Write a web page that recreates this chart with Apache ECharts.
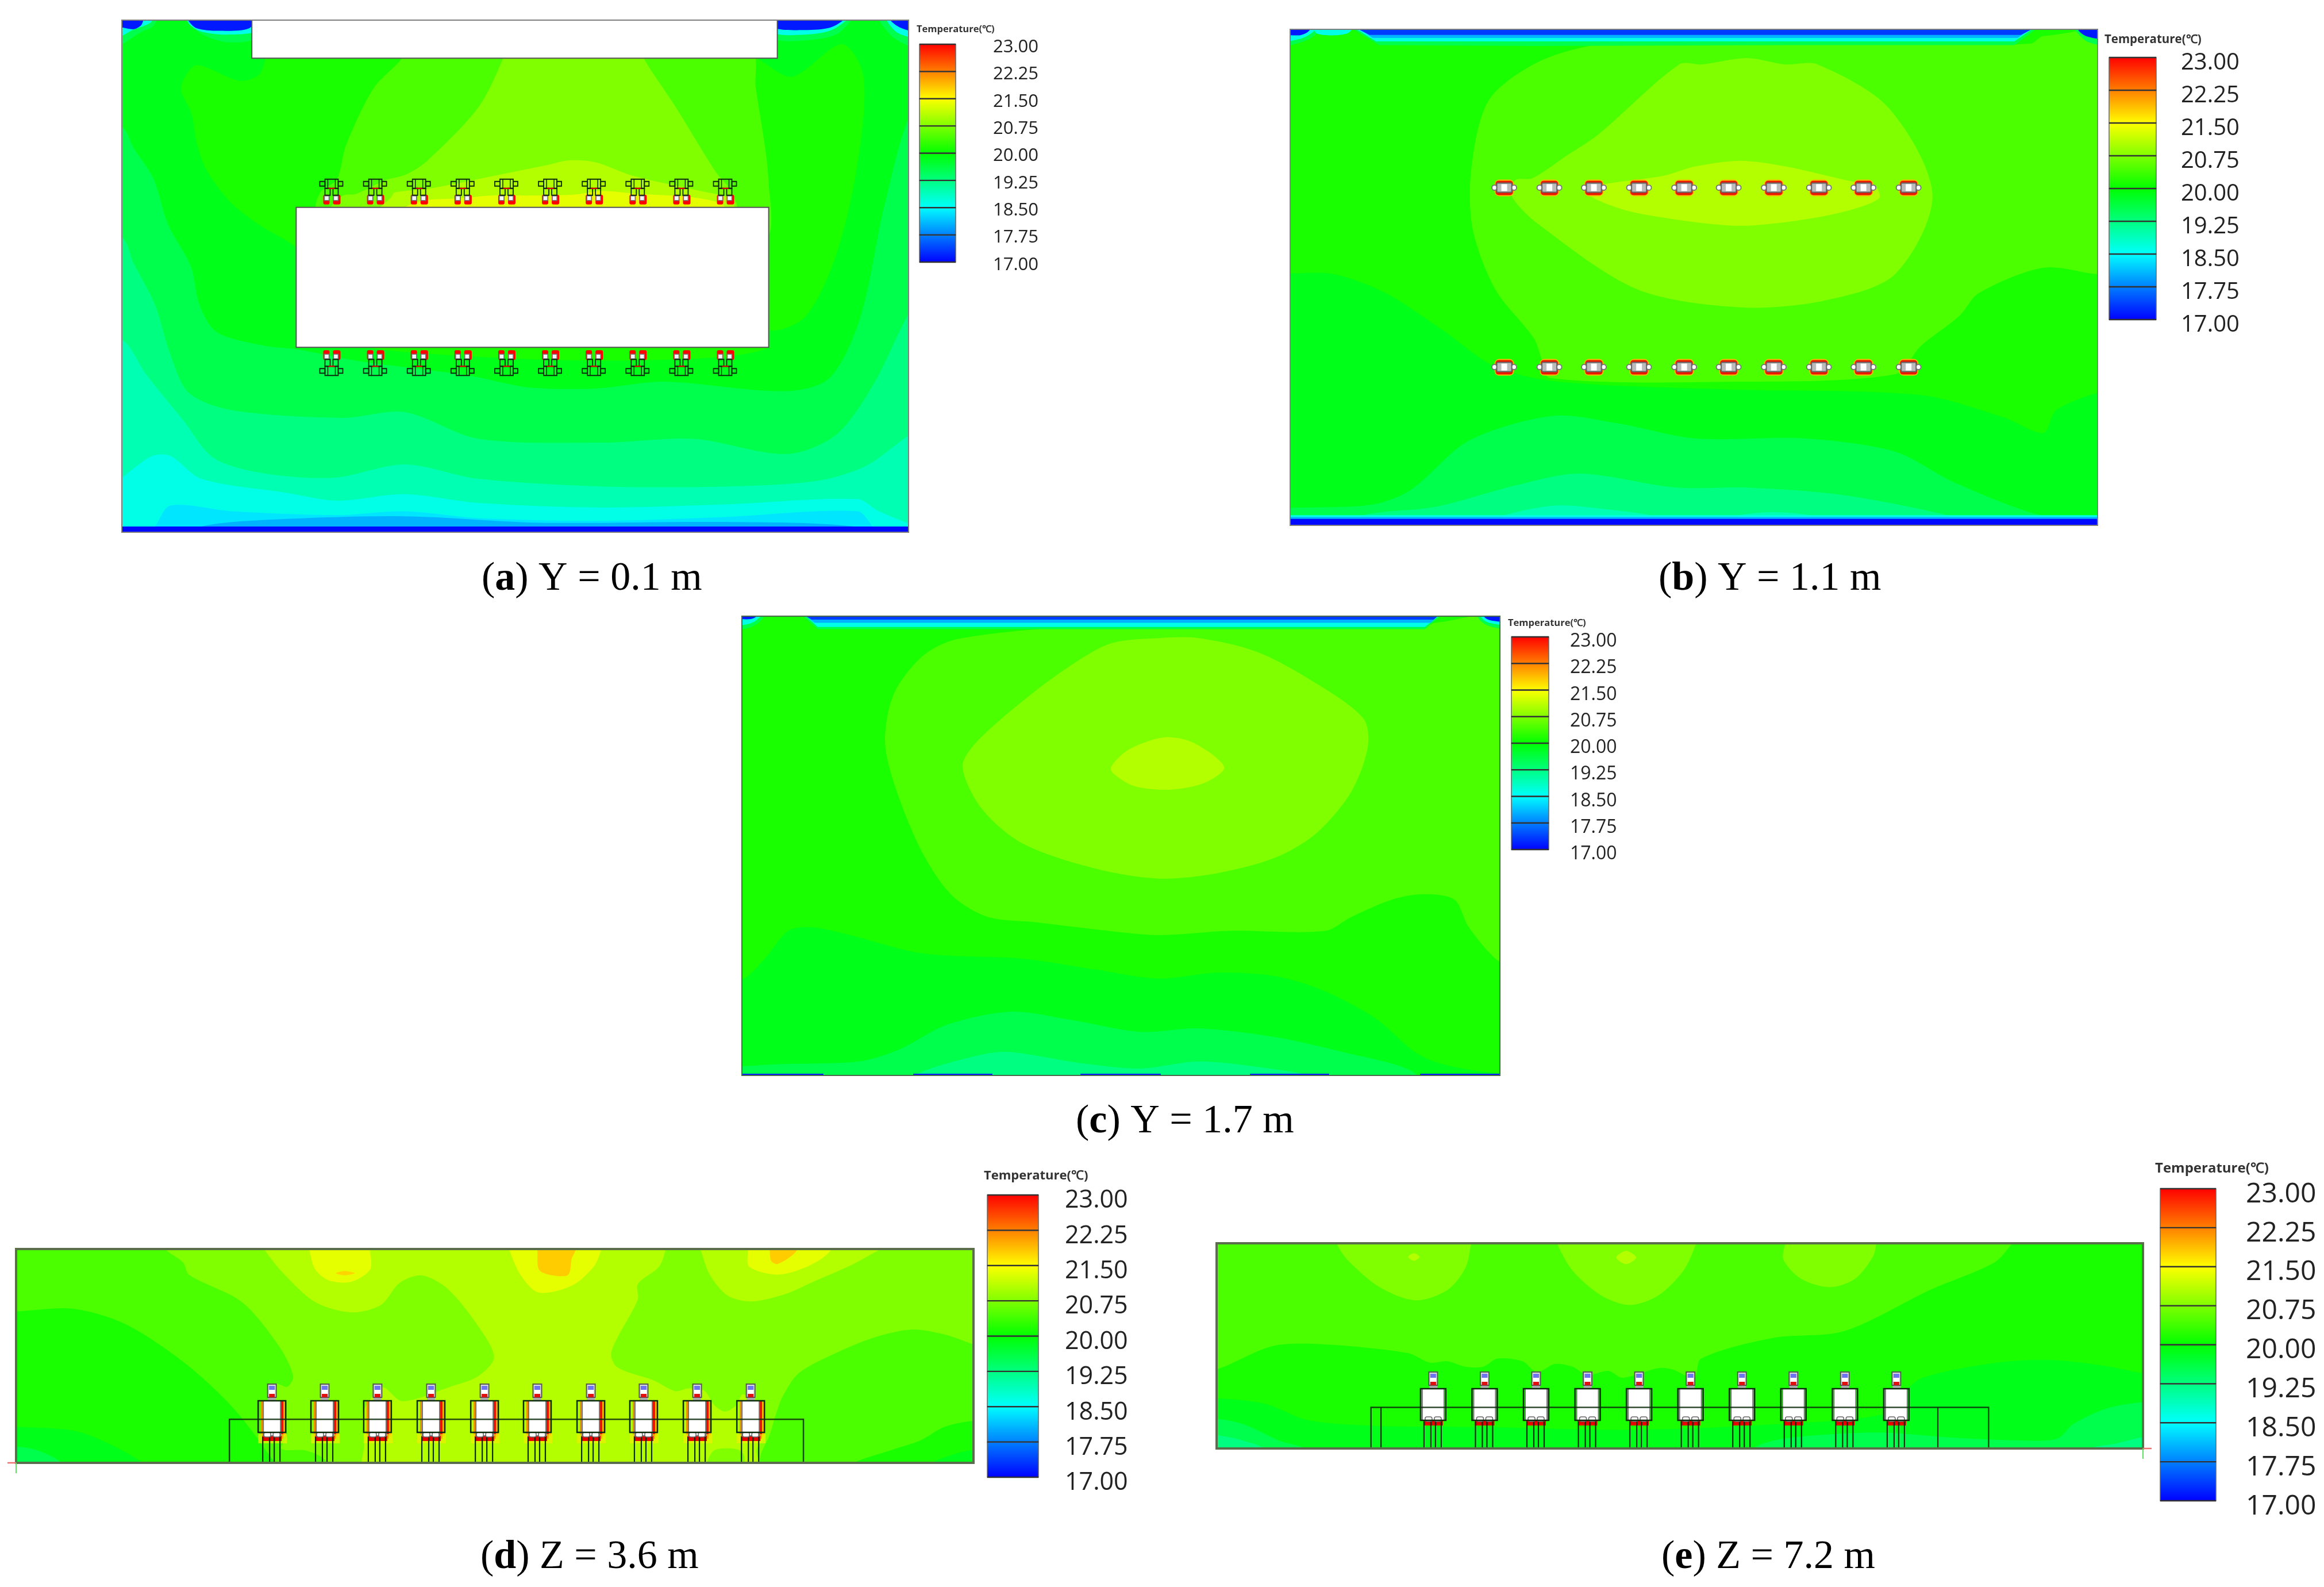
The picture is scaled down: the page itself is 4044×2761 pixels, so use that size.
<!DOCTYPE html>
<html><head><meta charset="utf-8">
<style>html,body{margin:0;padding:0;background:#fff}#chart{width:4044px;height:2761px}#chart canvas{filter:blur(.7px)}</style>
<script src="https://cdn.jsdelivr.net/npm/echarts@6/dist/echarts.min.js"></script>
</head><body><div id="chart"></div>
<script>
// ---------- readings ----------
const tickLabels = ['17.00','17.75','18.50','19.25','20.00','20.75','21.50','22.25','23.00'];
const legendTitle = 'Temperature(℃)';
const captions = [['a','Y = 0.1 m'],['b','Y = 1.1 m'],['c','Y = 1.7 m'],['d','Z = 3.6 m'],['e','Z = 7.2 m']];

// Temperature isoband outlines: [temperature, outline in slice units, 0 = straight edges]
const bandsA = [
 [18.65,[[-50,-50],[1400,-50],[1400,1450],[-50,1450]],0],
 [18.95,[[10,1232],[21,1222],[70,1165],[100,1165],[150,1225],[290,1262],[370,1282],[480,1265],[600,1288],[800,1300],[1000,1292],[1215,1278],[1250,1310],[1310,1345],[1400,1345],[1400,-50],[-50,-50],[-50,1232]]],
 [19.25,[[-50,850],[21,860],[60,950],[120,1070],[170,1170],[250,1210],[365,1222],[480,1187],[600,1225],[800,1245],[1000,1245],[1150,1230],[1230,1190],[1310,1100],[1400,1050],[1400,-50],[-50,-50]]],
 [19.55,[[-50,580],[21,592],[40,659],[75,769],[100,900],[130,1000],[200,1045],[380,1065],[480,1050],[600,1120],[800,1130],[950,1120],[1100,1160],[1180,1110],[1240,980],[1310,760],[1400,600],[1400,-50],[-50,-50]]],
 [19.85,[[-50,280],[21,302],[40,357],[72,437],[96,558],[133,668],[147,769],[175,840],[250,875],[304,885],[401,915],[495,935],[588,955],[681,985],[790,988],[900,970],[1100,995],[1170,960],[1220,800],[1260,500],[1310,240],[1400,120],[1400,-50],[-50,-50]]],
 [20.15,[[255,100],[255,120],[243,166],[212,181],[143,140],[124,170],[117,206],[134,266],[143,347],[159,417],[196,497],[243,558],[303,618],[340,700],[1040,760],[1071,835],[1130,800],[1180,640],[1215,400],[1225,170],[1190,85],[1110,170],[1060,130],[1040,100]]],
 [20.15,[[420,880],[600,905],[800,915],[1000,905],[1071,880],[1000,860],[500,860]]],
 [20.45,[[476,100],[476,122],[430,200],[385,350],[370,440],[345,470],[335,513],[340,600],[1060,600],[1071,450],[1050,200],[1040,100]]],
 [20.75,[[640,100],[640,122],[600,250],[516,392],[482,427],[448,442],[401,478],[380,482],[360,513],[360,540],[1020,540],[1020,513],[1010,470],[985,420],[920,250],[868,122],[868,100]]],
 [21.05,[[430,530],[440,513],[458,487],[464,474],[526,462],[635,427],[712,402],[745,390],[790,395],[850,430],[960,470],[1010,490],[1015,513],[1015,530]]],
 [21.35,[[470,530],[480,513],[510,495],[560,490],[620,482],[680,482],[753,480],[800,470],[860,478],[940,485],[990,500],[1000,513],[1000,530]]],
 // supply openings along the top wall
 [19.55,[[10,10],[80,10],[78,22],[70,40],[53,53],[10,90]]],
 [18.65,[[10,10],[70,10],[68,28],[40,47],[10,68]]],
 [17.15,[[10,10],[55,10],[53,34],[39,46],[10,33]]],
 [19.55,[[125,10],[125,22],[150,58],[193,80],[240,68],[240,10]]],
 [18.65,[[128,10],[130,32],[150,52],[193,60],[240,50],[240,10]]],
 [17.15,[[125,10],[128,22],[142,43],[177,50],[227,44],[240,10]]],
 [19.55,[[1080,10],[1080,70],[1130,75],[1180,60],[1205,22],[1205,10]]],
 [18.65,[[1080,10],[1080,55],[1130,60],[1170,50],[1197,22],[1197,10]]],
 [17.15,[[1080,10],[1080,42],[1130,48],[1170,42],[1192,22],[1192,10]]],
 [19.55,[[1250,10],[1250,22],[1275,70],[1310,90],[1310,10]]],
 [18.65,[[1262,10],[1262,22],[1280,55],[1310,65],[1310,10]]],
 [17.15,[[1268,10],[1268,22],[1285,42],[1310,50],[1310,10]]],
 // supply edge along the bottom wall
 [18.35,[[60,1380],[75,1350],[100,1295],[200,1310],[370,1320],[480,1310],[600,1328],[800,1335],[1000,1325],[1215,1310],[1240,1350],[1255,1380]]],
 [18.05,[[130,1380],[150,1350],[250,1333],[480,1323],[700,1340],[1000,1338],[1210,1350],[1220,1380]]],
 [17.05,[[-50,1350],[1400,1350],[1400,1450],[-50,1450]],0]
];
const bandsB = [
 [20.15,[[-50,-50],[1400,-50],[1400,1450],[-50,1450]],0],
 [19.85,[[-50,678],[22,678],[90,680],[170,730],[260,830],[340,925],[440,965],[700,985],[1000,1000],[1130,1060],[1190,1100],[1210,1040],[1284,990],[1400,960],[1400,1450],[-50,1450]]],
 [19.55,[[-50,1320],[150,1290],[210,1250],[300,1120],[430,1055],[530,1075],[650,1115],[820,1115],[960,1150],[1050,1230],[1190,1320],[1284,1325],[1400,1325],[1400,1450],[-50,1450]]],
 [19.25,[[110,1360],[130,1320],[250,1295],[370,1240],[470,1208],[620,1245],[730,1245],[880,1265],[1050,1322],[1100,1360]]],
 [18.95,[[300,1360],[340,1325],[430,1293],[500,1300],[600,1325],[640,1360]]],
 [18.95,[[660,1360],[700,1325],[770,1310],[850,1325],[900,1360]]],
 [20.45,[[500,72],[405,120],[330,220],[303,400],[305,560],[340,720],[400,850],[412,905],[425,955],[700,965],[960,945],[1000,870],[1060,790],[1090,730],[1190,663],[1274,680],[1400,690],[1400,40],[1190,50],[1170,70],[1000,72],[600,70]]],
 [20.75,[[625,125],[660,125],[730,108],[790,125],[840,125],[950,240],[1018,470],[960,680],[850,750],[720,768],[560,720],[407,548],[365,472],[371,431],[398,426],[452,365],[500,310]]],
 [21.05,[[480,465],[500,445],[600,420],[650,395],[720,380],[790,395],[880,430],[930,450],[935,480],[880,515],[800,540],[720,552],[640,540],[540,510]]],
 // top wall
 [19.55,[[118,20],[120,32],[160,74],[400,76],[800,74],[1145,74],[1178,32],[1180,20]],0],
 [18.65,[[125,20],[125,32],[155,64],[1145,64],[1172,32],[1172,20]],0],
 [18.05,[[128,20],[130,32],[150,55],[1150,55],[1170,32],[1170,20]],0],
 [17.35,[[126,20],[128,32],[145,47],[1155,47],[1172,32],[1172,20]],0],
 [19.55,[[0,10],[72,10],[62,45],[40,66],[0,76]]],
 [18.65,[[0,10],[66,10],[58,38],[36,58],[0,62]]],
 [17.15,[[0,10],[60,10],[50,38],[35,48],[0,40]]],
 [18.65,[[62,20],[120,20],[112,42],[85,48],[62,42]]],
 [19.55,[[1230,10],[1240,36],[1260,66],[1300,74],[1300,10]]],
 [17.15,[[1240,10],[1245,36],[1260,52],[1300,58],[1300,10]]],
 // bottom wall
 [18.65,[[-50,1318],[1400,1318],[1400,1450],[-50,1450]],0],
 [18.05,[[-50,1323],[1400,1323],[1400,1450],[-50,1450]],0],
 [17.05,[[-50,1328],[1400,1328],[1400,1450],[-50,1450]],0]
];
const bandsC = [
 [20.15,[[-50,-50],[1400,-50],[1400,1450],[-50,1450]],0],
 [19.85,[[-50,1120],[22,1080],[60,1020],[100,940],[140,930],[200,950],[330,1005],[500,1020],[620,1050],[730,1077],[830,1060],[930,1070],[1010,1110],[1100,1190],[1170,1290],[1220,1325],[1313,1350],[1400,1360],[1400,1450],[-50,1450]]],
 [19.55,[[-50,1352],[60,1325],[220,1315],[290,1280],[370,1210],[480,1172],[580,1195],[700,1230],[800,1220],[930,1245],[1050,1290],[1160,1340],[1190,1400],[-50,1450]]],
 [19.25,[[290,1400],[320,1350],[430,1295],[480,1288],[600,1320],[700,1335],[800,1315],[920,1335],[1000,1360],[1040,1400]]],
 [20.45,[[390,102],[330,150],[280,260],[265,400],[285,540],[330,720],[380,840],[440,900],[520,915],[620,935],[730,952],[850,940],[1015,940],[1060,900],[1130,850],[1180,835],[1235,850],[1260,930],[1313,1030],[1400,1100],[1400,40],[1205,55],[1170,70],[800,68],[600,66]]],
 [20.75,[[650,115],[730,100],[800,100],[900,140],[1000,230],[1080,330],[1088,410],[1060,540],[1000,660],[930,730],[830,775],[730,790],[620,760],[500,690],[430,590],[397,470],[420,400],[500,280],[580,180]]],
 [21.05,[[650,470],[680,420],[740,385],[790,400],[843,470],[810,515],[750,535],[690,525],[655,490]]],
 // top wall
 [19.55,[[122,20],[125,37],[150,74],[500,74],[1000,74],[1185,74],[1212,37],[1212,20]],0],
 [18.65,[[128,20],[130,37],[150,68],[1185,68],[1208,37],[1208,20]],0],
 [18.05,[[128,20],[130,37],[145,56],[1195,56],[1207,37],[1207,20]],0],
 [17.35,[[128,20],[130,37],[140,47],[1200,47],[1207,37],[1207,20]],0],
 [19.55,[[0,20],[62,20],[52,52],[34,70],[0,74]]],
 [18.65,[[0,20],[58,20],[46,48],[30,60],[0,62]]],
 [17.15,[[0,20],[56,20],[42,42],[28,46],[0,40]]],
 [19.55,[[1272,20],[1280,50],[1300,68],[1340,72],[1340,20]]],
 [18.65,[[1278,20],[1284,46],[1300,58],[1340,62],[1340,20]]],
 [17.15,[[1280,20],[1288,42],[1300,50],[1340,52],[1340,20]]],
 // bottom openings
 [17.15,[[-10,1350],[160,1350],[160,1400],[-10,1400]],0],
 [17.15,[[313,1350],[448,1350],[448,1400],[313,1400]],0],
 [17.15,[[598,1350],[735,1350],[735,1400],[598,1400]],0],
 [17.15,[[887,1350],[1022,1350],[1022,1400],[887,1400]],0],
 [17.15,[[1177,1350],[1340,1350],[1340,1400],[1177,1400]],0]
];
const bandsD = [
 [20.45,[[-50,250],[1400,250],[1400,1250],[-50,1250]],0],
 [20.15,[[-50,580],[22,575],[100,565],[170,620],[250,760],[314,918],[361,1080],[384,1200],[-50,1200]]],
 [19.85,[[-50,995],[22,1000],[110,1020],[200,1140],[210,1200],[-50,1200]]],
 [19.55,[[-50,1062],[22,1072],[50,1085],[85,1135],[90,1200],[-50,1200]]],
 [20.75,[[215,300],[225,345],[250,395],[258,440],[330,540],[380,700],[400,812],[392,852],[376,841],[375,900],[392,1023],[384,1080],[418,1087],[444,1123],[450,1200],[1036,1200],[1036,1135],[1038,1099],[1050,1028],[1058,957],[1068,886],[1090,801],[1144,723],[1198,666],[1245,641],[1288,659],[1326,694],[1400,760],[1400,300]]],
 [20.15,[[1400,975],[1326,978],[1288,1000],[1256,1049],[1216,1085],[1162,1135],[1130,1200],[1400,1200]]],
 [19.85,[[1400,1075],[1326,1085],[1295,1106],[1270,1135],[1250,1200],[1400,1200]]],
 [21.05,[[350,300],[360,345],[385,430],[430,540],[480,578],[520,550],[545,470],[575,442],[610,490],[650,620],[674,742],[653,812],[614,852],[549,905],[523,854],[510,880],[495,950],[497,1060],[497,1200],[1036,1200],[1036,1135],[1032,1085],[1043,1028],[1036,957],[1014,879],[1004,921],[989,943],[975,921],[960,865],[939,858],[921,868],[892,829],[842,780],[834,723],[870,531],[870,474],[899,410],[908,345],[908,300]]],
 [21.05,[[945,300],[955,345],[968,439],[993,517],[1025,538],[1072,510],[1108,467],[1162,403],[1202,345],[1240,300]]],
 [20.75,[[964,1200],[964,1135],[975,1085],[1004,1081],[1014,1099],[1016,1135],[1016,1200]]],
 [21.35,[[418,300],[422,350],[430,420],[450,462],[480,465],[505,420],[505,350],[505,300]]],
 [21.35,[[690,300],[695,350],[710,440],[735,505],[780,480],[810,410],[820,350],[825,300]]],
 [21.35,[[1018,300],[1020,350],[1022,410],[1061,439],[1101,410],[1130,360],[1140,300]]],
 [21.75,[[458,434],[470,426],[484,434],[470,442]]],
 [21.8,[[730,300],[733,350],[735,420],[750,440],[775,440],[780,380],[785,350],[785,300]]],
 [21.8,[[1048,300],[1050,350],[1052,389],[1061,400],[1086,354],[1090,300]]]
];
const bandsE = [
 [20.15,[[-50,250],[1400,250],[1400,1250],[-50,1250]],0],
 [19.85,[[-50,905],[22,905],[90,925],[150,985],[240,1005],[400,1010],[600,1020],[800,1000],[960,960],[985,880],[1010,830],[1100,780],[1180,765],[1260,785],[1330,820],[1400,850],[1400,1200],[-50,1200]]],
 [19.55,[[-50,978],[22,980],[60,1000],[110,1060],[150,1095],[170,1200],[-50,1200]]],
 [19.55,[[750,1200],[770,1095],[800,1060],[860,1040],[950,1030],[1060,1050],[1170,1060],[1200,1050],[1220,1000],[1270,940],[1330,915],[1400,900],[1400,1200]]],
 [19.25,[[-50,1035],[22,1040],[60,1060],[90,1095],[90,1200],[-50,1200]]],
 [19.25,[[1220,1200],[1240,1095],[1280,1070],[1330,1040],[1400,1020],[1400,1200]]],
 [20.45,[[-50,840],[22,800],[100,715],[170,708],[290,740],[320,775],[345,770],[370,790],[395,790],[415,760],[450,770],[470,810],[495,780],[520,790],[540,820],[570,805],[590,830],[640,795],[660,800],[690,830],[700,760],[800,685],[900,660],[1020,510],[1110,410],[1135,340],[1150,280],[-50,280]]],
 [20.75,[[185,280],[190,340],[205,400],[250,500],[300,548],[345,510],[370,430],[378,340],[380,280]]],
 [20.75,[[490,280],[498,340],[520,440],[560,530],[600,565],[640,530],[675,440],[693,340],[698,280]]],
 [20.75,[[818,280],[817,340],[815,400],[840,470],[880,500],[915,470],[940,390],[945,340],[948,280]]],
 [21.05,[[290,390],[298,376],[306,390],[298,404]]],
 [21.05,[[581,392],[595,368],[609,392],[595,416]]]
];

// Occupant and fixture positions along each slice
const occupantsA = [361,432,503,574,645,716,787,858,929,1000];
const occupantsB = [354,424,493,563,633,702,772,842,911,981];
const occupantsD = [371,443,515,588,661,733,806,878,951,1024];
const occupantsE = [325,397,469,541,613,685,757,829,901,973];
const rowsA = [513,880];
const rowsB = [451,926];
const blocksA = [[232,22,1085,122],[304,513,1071,880]];
const floorD = 1132, floorE = 1088;
const tableD = [[313,floorD],[313,972],[1096,972],[1096,floorD]];
const tableE = [[238,floorE],[238,938],[1102,938],[1102,floorE]];
const tableInnerE = [[252,938,252,floorE],[1031,938,1031,floorE]];

// ---------- layout ----------
const panels = [
 {l:212,t:35,r:1581,b:926,x:[21,1298],y:[22,1365],frame:'#808080',fw:2,bands:bandsA,
  bar:[1600,77,1663,456],tickLen:21,margin:65,font:31,pad:10,title:[1595,43,16.5],cap:[838,973]},
 {l:2245,t:51,r:3650,b:914,x:[22,1274],y:[32,1345],frame:'#808080',fw:2,bands:bandsB,
  bar:[3670,100,3752,556],tickLen:25,margin:43,font:40,pad:20,title:[3662,59,20.5],cap:[2886,973]},
 {l:1291,t:1072,r:2610,b:1871,x:[21,1313],y:[37,1355],frame:'#4a6a4a',fw:2,bands:bandsC,
  bar:[2630,1108,2695,1478],tickLen:22,margin:37,font:32,pad:16,title:[2624,1076,16.5],cap:[1872,1917]},
 {l:28,t:2173,r:1694,b:2545,x:[22,1328],y:[345,1132],frame:'#5a6e4c',fw:4,bands:bandsD,
  bar:[1718,2079,1807,2570],tickLen:27,margin:46,font:43,pad:20,title:[1712,2035,22],cap:[836,2675]},
 {l:2117,t:2163,r:3729,b:2520,x:[22,1318],y:[340,1088],frame:'#5a6e4c',fw:4,bands:bandsE,
  bar:[3759,2068,3856,2611],tickLen:31,margin:52,font:48,pad:20,title:[3750,2021,24],cap:[2891,2675]}
];

function tempColor(t){
  const s=[[17,[0,0,255]],[18.5,[0,255,255]],[20,[0,255,0]],[21.5,[255,255,0]],[23,[255,0,0]]];
  for(let i=0;i<4;i++){ if(t<=s[i+1][0]){ const k=Math.max(0,(t-s[i][0])/(s[i+1][0]-s[i][0]));
    const c=s[i][1].map((v,j)=>Math.round(v+(s[i+1][1][j]-v)*k)); return `rgb(${c[0]},${c[1]},${c[2]})`; } }
  return 'rgb(255,0,0)';
}
const rect=(x0,y0,x1,y1,style)=>({type:'rect',shape:{x:Math.min(x0,x1),y:Math.min(y0,y1),width:Math.abs(x1-x0),height:Math.abs(y1-y0)},style});
const line=(x0,y0,x1,y1,stroke,w)=>({type:'line',shape:{x1:x0,y1:y0,x2:x1,y2:y1},style:{stroke,lineWidth:w}});
const INK='#0c2a0c';

function bandSeries(i,bands){
  return {type:'custom',coordinateSystem:'cartesian2d',xAxisIndex:i,yAxisIndex:i,clip:true,silent:true,z:2,
    data:bands.map((b,k)=>[k,b[0]]),
    renderItem:(p,api)=>{const b=bands[p.dataIndex];
      return {type:'polygon',shape:{points:b[1].map(q=>api.coord(q)),smooth:b[2]===0?0:0.3},style:{fill:tempColor(b[0])}};}};
}
function overlay(i,data,draw,z){
  return {type:'custom',coordinateSystem:'cartesian2d',xAxisIndex:i,yAxisIndex:i,clip:false,silent:true,z:z||3,
    data,renderItem:(p,api)=>draw(data[p.dataIndex],api)};
}
function blockDraw(d,api){
  const a=api.coord([d[0],d[1]]),b=api.coord([d[2],d[3]]);
  return rect(a[0],a[1],b[0],b[1],{fill:'#fff',stroke:'#555',lineWidth:2});
}
function frameDraw(i){return (d,api)=>{const P=panels[i];const a=api.coord([P.x[0],P.y[0]]),b=api.coord([P.x[1],P.y[1]]);
  return rect(a[0],a[1],b[0],b[1],{fill:'none',stroke:P.frame,lineWidth:P.fw});};}
function planStanding(d,api){ // seated occupant seen from above, panel (a)
  const c=api.coord([d[0],d[1]]),cx=c[0],e=c[1],s=d[2];
  const Y=v=>e-s*v, k=[];
  const red={fill:'#f00'},ln={fill:'none',stroke:INK,lineWidth:1.8};
  [[-14,-3],[3,16]].forEach(h=>k.push({type:'rect',shape:{x:cx+h[0],y:Math.min(Y(5),Y(22)),width:h[1]-h[0],height:17,r:3},style:red}));
  [-8,8].forEach(o=>k.push(rect(cx+o-4,Y(12),cx+o+4,Y(20),{fill:'#f4f4f8',stroke:'#777',lineWidth:1.5})));
  k.push(rect(cx-11,Y(21),cx-2,Y(33),ln),rect(cx+3,Y(21),cx+12,Y(33),ln));
  k.push(rect(cx-11,Y(33),cx+12,Y(49),ln),line(cx-6,Y(33),cx-6,Y(49),INK,1.5),line(cx+7,Y(33),cx+7,Y(49),INK,1.5));
  k.push(rect(cx-20,Y(37),cx-11,Y(45),ln),rect(cx+12,Y(37),cx+20,Y(45),ln));
  k.push(line(cx-5,Y(33),cx+6,Y(33),'#e00',2));
  return {type:'group',children:k};
}
function planHead(d,api){ // occupant section, panel (b)
  const c=api.coord([d[0],d[1]]),x=c[0],y=c[1],k=[];
  k.push({type:'rect',shape:{x:x-17,y:y-14,width:34,height:29,r:8},style:{fill:'#ffb400'}});
  k.push({type:'rect',shape:{x:x-15,y:y-12,width:30,height:25,r:5},style:{fill:'#e81800'}});
  [-17,17].forEach(o=>k.push({type:'circle',shape:{cx:x+o,cy:y,r:4.5},style:{fill:'#fff',stroke:'#777',lineWidth:2}}));
  k.push({type:'rect',shape:{x:x-13,y:y-8,width:26,height:16,r:2},style:{fill:'#bbb',stroke:'#666',lineWidth:2}});
  k.push(rect(x-5,y-6,x+5,y+6,{fill:'#fff'}));
  return {type:'group',children:k};
}
function upright(opt){ return (d,api)=>{
  const c=api.coord([d[0],d[1]]),x=c[0],f=c[1],k=[];
  const Y=v=>f-v;
  const box={fill:'none',stroke:INK,lineWidth:2.5};
  if(opt.side){
    k.push(rect(x+15,Y(108),x+20,Y(42),{fill:'#ee1100'}),rect(x+20,Y(106),x+24,Y(46),{fill:'#ffb000'}));
    k.push(rect(x-19,Y(108),x-15,Y(48),{fill:'#f09000'}));
    k.push(rect(x-24,Y(50),x+26,Y(34),{fill:'#f0f000',opacity:.7}));
  }
  k.push(rect(x-17,Y(opt.bot),x+17,Y(opt.bot-9),{fill:'#e80000'}));
  [-16,-4,4,14].forEach(o=>k.push(line(x+o,Y(opt.bot-2),x+o,f,INK,2.2)));
  k.push(rect(x-opt.body,Y(opt.top),x+opt.body,Y(opt.bot),{fill:'#fff',stroke:'#777',lineWidth:2}));
  [-8,8].forEach(o=>k.push({type:'rect',shape:{x:x+o-6,y:Y(opt.bot+6),width:12,height:8,r:3},style:{fill:'#fff',stroke:'#666',lineWidth:1.5}}));
  k.push(rect(x-7,Y(opt.top+8),x+7,Y(opt.top),{fill:'#aaa'}));
  k.push(rect(x-7.5,Y(opt.head),x+7.5,Y(opt.top+6),{fill:'#ddd',stroke:'#555',lineWidth:2}));
  k.push(rect(x-5,Y(opt.head-3),x+5,Y(opt.head-10),{fill:'#6f74f0'}));
  k.push(rect(x-5,Y(opt.head-10),x+5,Y(opt.head-17),{fill:'#fff'}));
  k.push(rect(x-5,Y(opt.head-17),x+5,Y(opt.head-23),{fill:'#e01010'}));
  k.push(rect(x-opt.box,Y(opt.top),x+opt.box,Y(opt.boxBot),box));
  return {type:'group',children:k};
};}
function polyDraw(d,api){
  return {type:'polyline',shape:{points:d.map(q=>api.coord(q))},style:{fill:'none',stroke:INK,lineWidth:2.5,opacity:.85}};
}
function segDraw(d,api){
  const a=api.coord([d[0],d[1]]),b=api.coord([d[2],d[3]]);
  return line(a[0],a[1],b[0],b[1],INK,2.2);
}
function originDraw(sign){return (d,api)=>{const c=api.coord(d),k=[];
  k.push(line(c[0],c[1],c[0]-sign*15,c[1],'#f07070',2.5),line(c[0],c[1],c[0],c[1]+18,'#60e060',2));
  return {type:'group',children:k};};}

// ---------- option ----------
const grid=[],xAxis=[],yAxis=[],series=[],title=[];
panels.forEach((P,i)=>{
  grid.push({left:P.l,top:P.t,width:P.r-P.l,height:P.b-P.t,containLabel:false});
  xAxis.push({type:'value',gridIndex:i,min:P.x[0],max:P.x[1],show:false});
  yAxis.push({type:'value',gridIndex:i,min:P.y[0],max:P.y[1],inverse:true,show:false});
  series.push(bandSeries(i,P.bands));
});
panels.forEach((P,i)=>{
  const n=panels.length+i;
  grid.push({left:P.bar[0],top:P.bar[1],width:P.bar[2]-P.bar[0],height:P.bar[3]-P.bar[1]});
  xAxis.push({type:'value',gridIndex:n,min:0,max:1,show:false});
  yAxis.push({type:'category',gridIndex:n,data:tickLabels,boundaryGap:false,position:'right',
    axisLine:{show:false},splitLine:{show:false},
    axisTick:{show:true,length:P.tickLen,alignWithLabel:true,lineStyle:{color:'#555',width:2}},
    axisLabel:{interval:0,margin:P.margin,formatter:v=>`{n|${v}}`,
      rich:{n:{fontSize:P.font,color:'#222',fontFamily:'"Open Sans"',padding:[P.pad,0,0,0]}}}});
  series.push({type:'custom',coordinateSystem:'cartesian2d',xAxisIndex:n,yAxisIndex:n,silent:true,z:2,
    data:tickLabels.map((t,k)=>[0,k]),
    renderItem:(p,api)=>{
      const k=p.dataIndex,a=api.coord([0,k]),b=api.coord([1,k]),kids=[];
      if(k<tickLabels.length-1){
        const c=api.coord([1,k+1]);
        const t0=+tickLabels[k],t1=+tickLabels[k+1],stops=[];
        for(let s=0;s<=4;s++){const u=s/4;stops.push({offset:u,color:tempColor(t0+(t1-t0)*u)});}
        kids.push(rect(a[0],c[1],b[0],a[1],{fill:new echarts.graphic.LinearGradient(0,1,0,0,stops),stroke:'#666',lineWidth:1.5}));
      }
      kids.push(line(a[0],a[1],b[0],a[1],'#333',2.4));
      return {type:'group',children:kids};
    }});
  title.push({text:legendTitle,left:P.title[0],top:P.title[1],padding:0,
    textStyle:{fontSize:P.title[2],fontWeight:'bold',color:'#333',fontFamily:'"Open Sans"'}});
  const cap=captions[i];
  title.push({text:`{r|(}{b|${cap[0]}}{r|) ${cap[1]}}`,left:P.cap[0],top:P.cap[1],padding:0,
    textStyle:{fontWeight:'normal',rich:{
      r:{fontFamily:'"Liberation Serif"',fontSize:70,fontWeight:'normal',color:'#000'},
      b:{fontFamily:'"Liberation Serif"',fontSize:70,fontWeight:'bold',color:'#000'}}}});
});
// panel (a)
series.push(overlay(0,blocksA,blockDraw));
rowsA.forEach((r,j)=>series.push(overlay(0,occupantsA.map(x=>[x,r,j?-1:1]),planStanding,4)));
series.push(overlay(0,[[0,0]],frameDraw(0),5));
// panel (b)
rowsB.forEach(r=>series.push(overlay(1,occupantsB.map(x=>[x,r]),planHead,4)));
series.push(overlay(1,[[0,0]],frameDraw(1),5));
// panel (c)
series.push(overlay(2,[[0,0]],frameDraw(2),5));
// panel (d)
series.push(overlay(3,occupantsD.map(x=>[x,floorD]),upright({head:137,top:108,bot:47,body:15,box:24,boxBot:53,side:true}),4));
series.push(overlay(3,[tableD],polyDraw,5));
series.push(overlay(3,[[0,0]],frameDraw(3),5));
series.push(overlay(3,[[22,floorD]],originDraw(1),6));
// panel (e)
series.push(overlay(4,occupantsE.map(x=>[x,floorE]),upright({head:133,top:104,bot:49,body:19,box:22,boxBot:49,side:false}),4));
series.push(overlay(4,[tableE],polyDraw,5));
series.push(overlay(4,tableInnerE,segDraw,5));
series.push(overlay(4,[[0,0]],frameDraw(4),5));
series.push(overlay(4,[[1318,floorE]],originDraw(-1),6));

const chart=echarts.init(document.getElementById('chart'),null,{width:4044,height:2761});
chart.setOption({animation:false,backgroundColor:'#fff',tooltip:{show:false},grid,xAxis,yAxis,title,series});
</script></body></html>
